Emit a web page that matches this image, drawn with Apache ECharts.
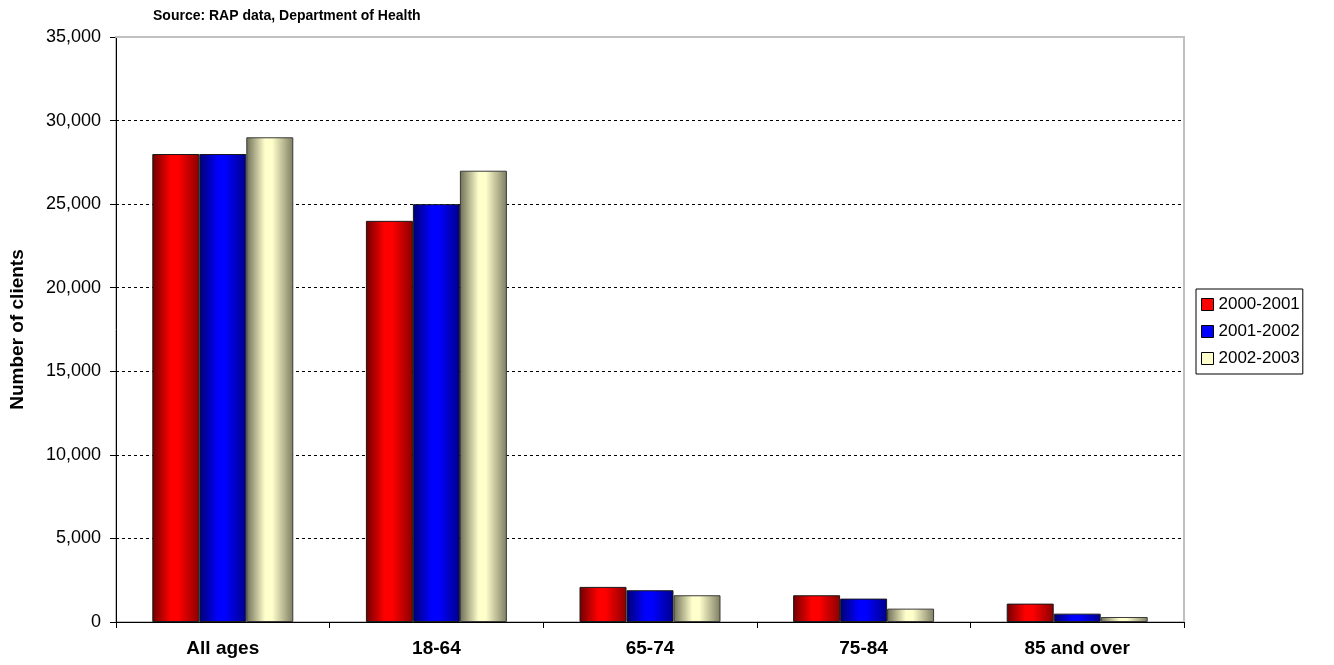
<!DOCTYPE html>
<html><head><meta charset="utf-8">
<script src="https://cdn.jsdelivr.net/npm/echarts@6/dist/echarts.min.js"></script>
<style>html,body{margin:0;padding:0;background:#fff}#c{width:1334px;height:665px}</style>
</head><body><div id="c"></div>
<script>
const categories = ['All ages', '18-64', '65-74', '75-84', '85 and over'];
const seriesNames = ['2000-2001', '2001-2002', '2002-2003'];
const s2000 = [28000, 24000, 2100, 1600, 1100];
const s2001 = [28000, 25000, 1900, 1400, 500];
const s2002 = [29000, 27000, 1600, 800, 300];
const yTicks = [0, 5000, 10000, 15000, 20000, 25000, 30000, 35000];

function grad(dark, light, dark2) {
  return new echarts.graphic.LinearGradient(0, 0, 1, 0, [
    {offset: 0, color: dark},
    {offset: 0.4, color: light},
    {offset: 0.55, color: light},
    {offset: 1, color: dark2}
  ]);
}
const fills = [grad('#700000', '#ff0000', '#8a0000'), grad('#000070', '#0000ff', '#00008a'), grad('#6e6e56', '#ffffcc', '#7d7d62')];
const legendColors = ['#ff0000', '#0000ff', '#ffffcc'];
const borders = ['#1a1a1a', '#1a1a1a', '#3a3a3a'];
const data = [s2000, s2001, s2002];
const FONT = 'Liberation Sans, Arial, sans-serif';

const chart = echarts.init(document.getElementById('c'), null, {renderer: 'canvas'});
chart.setOption({
  animation: false,
  backgroundColor: '#fff',
  title: {
    text: 'Source: RAP data, Department of Health',
    left: 148, top: 4,
    textStyle: {fontFamily: FONT, fontSize: 14, fontWeight: 'bold', color: '#000'}
  },
  legend: {
    orient: 'vertical', left: 1196, top: 289,
    padding: [7, 3, 7, 5],
    itemGap: 10,
    itemWidth: 12, itemHeight: 12,
    borderColor: '#000', borderWidth: 1,
    textStyle: {fontFamily: FONT, fontSize: 17, color: '#000'},
    data: seriesNames.map((n, i) => ({name: n, icon: 'rect', itemStyle: {color: legendColors[i], borderColor: '#000', borderWidth: 1}}))
  },
  grid: {left: 116, right: 150, top: 37, bottom: 43, show: true, borderColor: '#c0c0c0', borderWidth: 2, containLabel: false},
  xAxis: [{
    type: 'category', data: categories,
    axisLine: {lineStyle: {color: '#000', width: 1}},
    axisTick: {show: true, length: 6, lineStyle: {color: '#000'}},
    axisLabel: {fontFamily: FONT, fontSize: 19, fontWeight: 'bold', color: '#000', margin: 17}
  }, {
    type: 'category', data: categories, position: 'top', z: 5,
    axisLine: {show: true, lineStyle: {color: '#c0c0c0', width: 2}},
    axisTick: {show: false}, axisLabel: {show: false}
  }],
  yAxis: {
    type: 'value', min: 0, max: 35000, interval: 5000,
    name: 'Number of clients', nameLocation: 'middle', nameGap: 89,
    nameTextStyle: {fontFamily: FONT, fontSize: 19, fontWeight: 'bold', color: '#000'},
    axisLine: {show: true, lineStyle: {color: '#000'}},
    axisTick: {show: true, length: 6, lineStyle: {color: '#000'}},
    axisLabel: {fontFamily: FONT, fontSize: 18, color: '#000', margin: 15,
      formatter: v => yTicks.includes(v) ? v.toLocaleString('en-US') : ''},
    splitLine: {show: true, lineStyle: {color: '#000', type: [3, 3], width: 1}}
  },
  series: seriesNames.map((n, i) => ({
    name: n, type: 'bar', data: data[i], xAxisIndex: 0,
    barGap: '0%', barCategoryGap: '34%',
    itemStyle: {color: fills[i], borderColor: borders[i], borderWidth: 1}
  }))
});
</script></body></html>
